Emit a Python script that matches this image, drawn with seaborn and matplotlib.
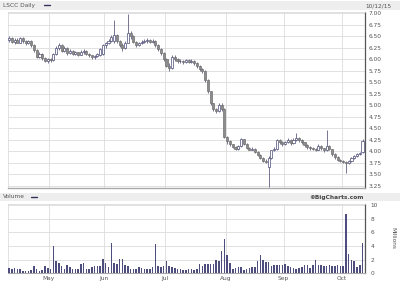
import numpy as np
import pandas as pd
import matplotlib
matplotlib.use("Agg")
import matplotlib.pyplot as plt
import seaborn as sns
from matplotlib.patches import Rectangle
from matplotlib.lines import Line2D

# ---------------- data ----------------
opens = [6.42, 6.45, 6.38, 6.42, 6.36, 6.45, 6.40, 6.34, 6.40, 6.30,
         6.20, 6.05, 6.12, 6.02, 5.96, 6.00, 5.98, 6.12, 6.25, 6.30,
         6.18, 6.25, 6.14, 6.18, 6.12, 6.15, 6.10, 6.16, 6.18, 6.12,
         6.08, 6.04, 6.06, 6.08, 6.12, 6.30, 6.35, 6.40, 6.40, 6.52,
         6.40, 6.30, 6.24, 6.36, 6.56, 6.50, 6.38, 6.30, 6.36, 6.38,
         6.40, 6.42, 6.38, 6.40, 6.30, 6.22, 6.14, 6.00, 5.86, 5.80,
         6.05, 6.00, 5.95, 5.97, 5.94, 5.98, 5.94, 5.97, 5.92, 5.85,
         5.78, 5.74, 5.55, 5.30, 5.05, 4.92, 4.88, 5.00, 4.92, 4.32,
         4.22, 4.15, 4.10, 4.06, 4.12, 4.26, 4.16, 4.08, 4.04, 4.06,
         3.99, 3.92, 3.86, 3.80, 3.66, 3.86, 4.02, 4.06, 4.24, 4.20,
         4.15, 4.20, 4.25, 4.18, 4.25, 4.30, 4.24, 4.20, 4.14, 4.10,
         4.08, 4.05, 4.04, 4.12, 4.07, 4.02, 4.12, 4.05, 3.94, 3.88,
         3.82, 3.80, 3.77, 3.74, 3.79, 3.85, 3.90, 3.94, 3.98]
highs = [6.50, 6.48, 6.45, 6.46, 6.48, 6.47, 6.42, 6.42, 6.41, 6.32,
         6.22, 6.15, 6.14, 6.05, 6.02, 6.03, 6.14, 6.28, 6.35, 6.32,
         6.28, 6.26, 6.22, 6.20, 6.18, 6.16, 6.20, 6.22, 6.19, 6.14,
         6.10, 6.09, 6.14, 6.24, 6.32, 6.38, 6.44, 6.52, 6.85, 6.54,
         6.42, 6.34, 6.40, 6.97, 6.60, 6.52, 6.40, 6.38, 6.42, 6.44,
         6.45, 6.44, 6.44, 6.41, 6.32, 6.24, 6.16, 6.02, 5.92, 6.08,
         6.10, 6.02, 6.00, 5.99, 6.01, 6.00, 6.00, 5.98, 5.93, 5.87,
         5.80, 5.76, 5.57, 5.32, 5.06, 4.95, 5.06, 5.04, 4.94, 4.34,
         4.24, 4.17, 4.12, 4.14, 4.28, 4.27, 4.18, 4.10, 4.09, 4.07,
         4.01, 3.94, 3.88, 3.84, 3.90, 4.04, 4.09, 4.26, 4.27, 4.22,
         4.22, 4.28, 4.26, 4.28, 4.40, 4.31, 4.26, 4.21, 4.16, 4.12,
         4.10, 4.08, 4.16, 4.14, 4.08, 4.47, 4.14, 4.06, 3.96, 3.90,
         3.84, 3.82, 3.79, 3.82, 3.88, 3.92, 3.96, 3.99, 4.26]
lows = [6.38, 6.35, 6.33, 6.34, 6.34, 6.36, 6.30, 6.32, 6.26, 6.15,
        6.02, 6.03, 5.98, 5.93, 5.92, 5.94, 5.97, 6.10, 6.20, 6.15,
        6.16, 6.10, 6.12, 6.08, 6.10, 6.06, 6.08, 6.12, 6.08, 6.04,
        6.00, 6.00, 6.04, 6.06, 6.10, 6.24, 6.32, 6.38, 6.36, 6.36,
        6.26, 6.18, 6.22, 6.34, 6.44, 6.34, 6.26, 6.28, 6.32, 6.35,
        6.36, 6.34, 6.34, 6.26, 6.18, 6.10, 5.96, 5.82, 5.75, 5.78,
        5.97, 5.92, 5.92, 5.90, 5.92, 5.91, 5.92, 5.88, 5.80, 5.74,
        5.70, 5.50, 5.26, 5.00, 4.88, 4.83, 4.86, 4.88, 4.28, 4.16,
        4.12, 4.07, 4.03, 4.04, 4.10, 4.14, 4.06, 4.02, 4.02, 3.97,
        3.90, 3.84, 3.78, 3.74, 3.22, 3.84, 4.00, 4.04, 4.16, 4.12,
        4.13, 4.18, 4.14, 4.16, 4.22, 4.20, 4.16, 4.10, 4.06, 4.04,
        4.02, 4.00, 4.02, 4.03, 3.98, 4.00, 4.02, 3.90, 3.84, 3.79,
        3.76, 3.74, 3.53, 3.72, 3.77, 3.83, 3.88, 3.92, 3.96]
closes = [6.45, 6.38, 6.42, 6.36, 6.45, 6.40, 6.34, 6.40, 6.30, 6.20,
          6.05, 6.12, 6.02, 5.96, 6.00, 5.98, 6.12, 6.25, 6.30, 6.18,
          6.25, 6.14, 6.18, 6.12, 6.15, 6.10, 6.16, 6.18, 6.12, 6.08,
          6.04, 6.06, 6.12, 6.22, 6.30, 6.35, 6.40, 6.48, 6.52, 6.40,
          6.30, 6.24, 6.36, 6.56, 6.50, 6.38, 6.30, 6.36, 6.38, 6.40,
          6.42, 6.38, 6.40, 6.30, 6.22, 6.14, 6.00, 5.86, 5.80, 6.05,
          6.00, 5.95, 5.97, 5.94, 5.98, 5.94, 5.97, 5.92, 5.85, 5.78,
          5.74, 5.55, 5.30, 5.05, 4.92, 4.88, 5.00, 4.92, 4.32, 4.22,
          4.15, 4.10, 4.06, 4.12, 4.26, 4.16, 4.08, 4.04, 4.06, 3.99,
          3.92, 3.86, 3.80, 3.78, 3.86, 4.02, 4.06, 4.24, 4.20, 4.15,
          4.20, 4.25, 4.18, 4.25, 4.30, 4.24, 4.20, 4.14, 4.10, 4.08,
          4.05, 4.04, 4.12, 4.07, 4.02, 4.12, 4.05, 3.94, 3.88, 3.82,
          3.80, 3.77, 3.74, 3.79, 3.85, 3.90, 3.94, 3.97, 4.22]
volume_millions = [0.83, 0.6, 0.75, 0.65, 0.65, 0.4, 0.4, 0.4, 0.5, 1.1,
                   0.6, 0.4, 0.5, 1.1, 0.75, 0.65, 4.0, 1.85, 1.55, 1.1,
                   0.6, 1.2, 0.9, 0.6, 0.65, 0.65, 1.3, 1.45, 0.65, 0.7,
                   0.85, 1.1, 1.1, 1.1, 2.05, 1.45, 0.85, 4.5, 1.55, 1.3,
                   2.05, 2.05, 1.2, 1.1, 0.6, 0.65, 0.65, 0.85, 0.75, 0.6,
                   0.6, 0.7, 0.85, 4.3, 1.1, 0.85, 1.0, 1.8, 1.0, 0.85,
                   0.75, 0.65, 0.65, 0.5, 0.5, 0.6, 0.6, 0.5, 0.6, 1.4,
                   1.0, 1.35, 1.3, 1.35, 1.35, 2.0, 1.85, 3.25, 5.0, 2.75,
                   1.5, 0.6, 0.75, 0.85, 0.85, 0.5, 0.65, 0.75, 0.9, 0.9,
                   1.75, 2.75, 2.0, 1.6, 1.6, 1.1, 1.2, 1.2, 1.15, 1.15,
                   1.35, 1.0, 0.9, 0.75, 0.6, 0.75, 0.9, 1.25, 1.25, 0.75,
                   1.25, 1.9, 1.25, 1.15, 1.0, 1.1, 1.25, 1.0, 1.0, 1.25,
                   1.0, 1.1, 8.75, 2.8, 1.9, 1.8, 0.9, 1.15, 4.5]
month_labels = ["May", "Jun", "Jul", "Aug", "Sep", "Oct"]
month_first_day = [15, 35, 57, 79, 100, 121]   # trading-day index of 1st session
price_ticks = [3.25, 3.50, 3.75, 4.00, 4.25, 4.50, 4.75, 5.00, 5.25,
               5.50, 5.75, 6.00, 6.25, 6.50, 6.75, 7.00]
volume_ticks = [0, 2, 4, 6, 8, 10]
title_text = "LSCC Daily"
date_text = "10/12/15"

# ---------------- styling ----------------
sns.set_theme(style="white")
plt.rcParams['font.family'] = ['DejaVu Sans']

W, H = 400, 284
fig = plt.figure(figsize=(W / 100, H / 100), dpi=100)
fig.patch.set_facecolor("white")


def box(l, t, r, b):
    return [l / W, 1 - b / H, (r - l) / W, (b - t) / H]


GRID = "#dcdcdc"
TXT = "#555555"
FS = 4.2

# header bands
for (t, b) in [(1, 10), (193, 201)]:
    fig.patches.append(Rectangle((0, 1 - b / H), 1, (b - t) / H,
                                 transform=fig.transFigure,
                                 facecolor="#eeeeee", edgecolor="none", zorder=0))

axp = fig.add_axes(box(8, 12, 365, 188))
axv = fig.add_axes(box(8, 204, 365, 273.3))

df = pd.DataFrame({"idx": np.arange(len(closes)), "open": opens, "high": highs,
                   "low": lows, "close": closes, "vol": volume_millions})
df["up"] = df["close"] >= df["open"]

# ---- price candles ----
axp.vlines(df["idx"], df["low"], df["high"], color="#5f5f80", lw=0.6, zorder=3)
up = df[df["up"]]
dn = df[~df["up"]]
axp.bar(up["idx"], up["close"] - up["open"], bottom=up["open"], width=0.75,
        facecolor="white", edgecolor="#4a4a78", linewidth=0.5, zorder=4)
axp.bar(dn["idx"], dn["open"] - dn["close"], bottom=dn["close"], width=0.75,
        facecolor="#8c8c8c", edgecolor="#707070", linewidth=0.5, zorder=4)

xlim = (-0.4, 128.9)
grid_x = [m - 0.6 for m in month_first_day]

axp.set_xlim(*xlim)
axp.set_ylim(3.207, 7.022)
axp.set_xticks(grid_x)
axp.set_xticklabels([])
axp.set_yticks(price_ticks)
axp.set_yticklabels([f"{v:.2f}" for v in price_ticks])
axp.yaxis.tick_right()
axp.tick_params(axis="y", length=0, pad=2.5, labelsize=FS, labelcolor=TXT)
axp.tick_params(axis="x", length=0)
axp.grid(True, color=GRID, lw=0.6)
axp.set_axisbelow(True)
for s in ["left", "top"]:
    axp.spines[s].set_color(GRID)
    axp.spines[s].set_linewidth(0.6)
axp.spines["right"].set_color("#555555")
axp.spines["right"].set_linewidth(0.9)
axp.spines["bottom"].set_color("#aaaaaa")
axp.spines["bottom"].set_linewidth(1.0)

# ---- volume bars ----
sns.barplot(data=df, x="idx", y="vol", native_scale=True, width=0.55,
            color="#4e4e7e", saturation=1, linewidth=0, ax=axv, zorder=3)
axv.set_xlim(*xlim)
axv.set_ylim(0, 10.15)
axv.set_xticks(grid_x)
axv.set_xticklabels(month_labels)
axv.set_yticks(volume_ticks)
axv.set_yticklabels([str(v) for v in volume_ticks])
axv.yaxis.tick_right()
axv.set_xlabel("")
axv.set_ylabel("")
axv.tick_params(axis="y", length=0, pad=4, labelsize=FS, labelcolor=TXT)
axv.tick_params(axis="x", length=0, pad=2, labelsize=FS, labelcolor=TXT)
axv.grid(True, color=GRID, lw=0.6)
axv.set_axisbelow(True)
for s in ["left", "top"]:
    axv.spines[s].set_color(GRID)
    axv.spines[s].set_linewidth(0.6)
axv.spines["right"].set_color("#555555")
axv.spines["right"].set_linewidth(0.9)
axv.spines["bottom"].set_color("#aaaaaa")
axv.spines["bottom"].set_linewidth(0.8)

# ---- header texts ----
fig.text(3 / W, 1 - 5.5 / H, title_text, fontsize=FS, color=TXT, va="center", ha="left")
fig.add_artist(Line2D([44 / W, 50 / W], [1 - 5.3 / H] * 2, color="#33335a", lw=1.0,
                      transform=fig.transFigure))
fig.text(392 / W, 1 - 5.5 / H, date_text, fontsize=FS, color=TXT, va="center", ha="right")
fig.text(3 / W, 1 - 197 / H, "Volume", fontsize=FS, color=TXT, va="center", ha="left")
fig.add_artist(Line2D([31 / W, 37 / W], [1 - 196.8 / H] * 2, color="#33335a", lw=1.0,
                      transform=fig.transFigure))
fig.text(364 / W, 1 - 197 / H, "\u00a9BigCharts.com", fontsize=FS, color="#444444",
         fontweight="bold", va="center", ha="right")
fig.text(393 / W, 1 - 238 / H, "Millions", fontsize=FS, color=TXT, rotation=270,
         va="center", ha="center")

fig.savefig("out.png", dpi=100)
